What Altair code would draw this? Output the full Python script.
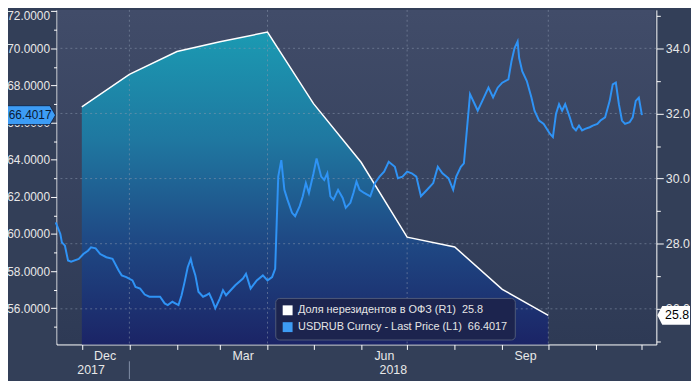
import altair as alt
import pandas as pd

FONT = "Liberation Sans, Arial, sans-serif"

SHARE_NAME = "Доля нерезидентов в ОФЗ (R1)"
USD_NAME = "USDRUB Curncy - Last Price (L1)"

# Non-resident share of OFZ, % (right axis), monthly
share_dates = ["2017-12-01", "2018-01-01", "2018-02-01", "2018-03-01", "2018-04-01",
               "2018-05-01", "2018-06-01", "2018-07-01", "2018-08-01", "2018-09-01",
               "2018-10-01"]
share_values = [32.2, 33.2, 33.9, 34.2, 34.5, 32.3, 30.5, 28.2, 27.9, 26.6, 25.8]

# USDRUB last price (left axis)
usd_dates = [
    "2017-11-14", "2017-11-17", "2017-11-18", "2017-11-20", "2017-11-22", "2017-11-24",
    "2017-11-29", "2017-12-02", "2017-12-05", "2017-12-07", "2017-12-10", "2017-12-13",
    "2017-12-17", "2017-12-21", "2017-12-25", "2017-12-27", "2017-12-30", "2018-01-03",
    "2018-01-05", "2018-01-08", "2018-01-11", "2018-01-14", "2018-01-18", "2018-01-21",
    "2018-01-24", "2018-01-26", "2018-01-29", "2018-02-02", "2018-02-04", "2018-02-06",
    "2018-02-08", "2018-02-10", "2018-02-11", "2018-02-13", "2018-02-15", "2018-02-18",
    "2018-02-20", "2018-02-22", "2018-02-24", "2018-02-26", "2018-03-01", "2018-03-03",
    "2018-03-05", "2018-03-08", "2018-03-11", "2018-03-16", "2018-03-18", "2018-03-21",
    "2018-03-25", "2018-03-29", "2018-04-01", "2018-04-04", "2018-04-06", "2018-04-07",
    "2018-04-08", "2018-04-10", "2018-04-12", "2018-04-14", "2018-04-17", "2018-04-19",
    "2018-04-22", "2018-04-24", "2018-04-26", "2018-04-28", "2018-05-01", "2018-05-03",
    "2018-05-06", "2018-05-08", "2018-05-10", "2018-05-12", "2018-05-14", "2018-05-17",
    "2018-05-20", "2018-05-22", "2018-05-25", "2018-05-27", "2018-05-29", "2018-05-31",
    "2018-06-03", "2018-06-07", "2018-06-10", "2018-06-13", "2018-06-16", "2018-06-19",
    "2018-06-23", "2018-06-25", "2018-06-28", "2018-07-01", "2018-07-04", "2018-07-07",
    "2018-07-10", "2018-07-14", "2018-07-18", "2018-07-21", "2018-07-24", "2018-07-28",
    "2018-07-31", "2018-08-02", "2018-08-05", "2018-08-07", "2018-08-09", "2018-08-11",
    "2018-08-14", "2018-08-16", "2018-08-19", "2018-08-23", "2018-08-26", "2018-08-29",
    "2018-09-01", "2018-09-05", "2018-09-07", "2018-09-09", "2018-09-11", "2018-09-12",
    "2018-09-14", "2018-09-17", "2018-09-20", "2018-09-22", "2018-09-25", "2018-09-28",
    "2018-10-02", "2018-10-04", "2018-10-06", "2018-10-08", "2018-10-10", "2018-10-12",
    "2018-10-15", "2018-10-17", "2018-10-19", "2018-10-21", "2018-10-23", "2018-10-25",
    "2018-10-28", "2018-10-30", "2018-11-02", "2018-11-04", "2018-11-07", "2018-11-10",
    "2018-11-12", "2018-11-14", "2018-11-16", "2018-11-18", "2018-11-20", "2018-11-23",
    "2018-11-25", "2018-11-27", "2018-11-29", "2018-12-01",
]
usd_values = [
    60.63, 60.00, 59.55, 59.37, 58.57, 58.51,
    58.66, 58.92, 59.10, 59.28, 59.23, 58.92,
    58.75, 58.66, 58.03, 57.77, 57.68, 57.50,
    57.15, 57.06, 56.74, 56.62, 56.62, 56.62,
    56.26, 56.17, 56.35, 56.17, 56.70, 57.42,
    58.21, 58.66, 58.30, 57.77, 56.89, 56.62,
    56.70, 56.80, 56.44, 56.00, 56.53, 56.97,
    56.70, 56.97, 57.24, 57.60, 57.86, 57.06,
    57.50, 57.77, 57.50, 57.68, 58.12, 60.61,
    63.09, 63.98, 62.38, 61.85, 61.14, 60.96,
    61.50, 62.03, 62.74, 62.21, 63.27, 64.07,
    63.09, 62.91, 63.27, 62.03, 61.85, 62.38,
    61.94, 61.41, 61.68, 62.21, 62.83, 62.38,
    62.21, 62.03, 62.74, 63.09, 63.36, 63.89,
    63.62, 63.00, 63.09, 63.36, 63.27, 63.09,
    62.03, 62.38, 62.74, 63.62, 63.27, 63.00,
    62.38, 63.09, 63.62, 63.80, 65.66, 67.53,
    67.00, 66.64, 67.17, 67.88, 67.35, 67.88,
    68.15, 68.33, 69.30, 70.01, 70.37, 69.48,
    68.77, 68.24, 67.35, 66.64, 66.11, 65.93,
    65.40, 65.22, 66.46, 66.99, 66.64, 66.99,
    66.28, 65.75, 65.58, 65.84, 65.58, 65.66,
    65.75, 65.84, 65.93, 66.11, 66.28, 67.17,
    68.06, 68.15, 66.99, 66.11, 65.93, 66.02,
    66.28, 67.17, 67.35, 66.4017,
]

month_ticks = [(2017, 12)] + [(2018, m) for m in range(1, 13)]
left_ticks = list(range(55, 73))
right_ticks = list(range(25, 36))
hgrid_values = [26, 28, 30, 32, 34]
vgrid_dates = ["2018-01-01", "2018-04-01", "2018-07-01", "2018-10-01"]
year_labels = ["2017", "2018"]
year_label_dates = ["2017-12-07", "2018-06-22"]
year_sep_dates = ["2018-01-01"]

LEFT_MIN, LEFT_MAX = 54.05, 72.07
RIGHT_MIN, RIGHT_MAX = 24.906, 35.18

share_label = f"{SHARE_NAME}\u00a0\u00a0{share_values[-1]}"
usd_label = f"{USD_NAME}\u00a0\u00a0{usd_values[-1]:.4f}"

share_df = pd.DataFrame({"date": share_dates, "share": share_values})
usd_df = pd.DataFrame({"date": usd_dates, "usd": usd_values})
hgrid_df = pd.DataFrame({"share": hgrid_values})
vgrid_df = pd.DataFrame({"date": vgrid_dates})
years_df = pd.DataFrame({"date": year_label_dates, "year": year_labels})
sep_df = pd.DataFrame({"date": year_sep_dates})
rtag_df = pd.DataFrame({"share": [share_values[-1]], "series": [share_label],
                        "text": [f"{share_values[-1]}"]})
ltag_df = pd.DataFrame({"usd": [usd_values[-1]], "series": [usd_label],
                        "text": [f"{usd_values[-1]:.4f}"]})
bg_df = pd.DataFrame({"k": [0]})

LABEL_COLOR = "#e8e8e8"
AXIS_COLOR = "#ffffff"

x_axis = alt.Axis(
    values=[alt.DateTime(year=y, month=m, date=1) for y, m in month_ticks],
    labelExpr="(month(datum.value) == 11 && year(datum.value) == 2017) || month(datum.value) == 2 "
              "|| month(datum.value) == 5 || month(datum.value) == 8 ? timeFormat(datum.value, '%b') : ''",
    labelOffset=23, labelPadding=0, tickSize=5, tickColor=AXIS_COLOR, domainColor=AXIS_COLOR,
    labelColor=LABEL_COLOR, labelFont=FONT, labelFontSize=12.5, grid=False,
    labelOverlap=False, labelFlush=False,
)
X = alt.X("date:T", title=None, axis=x_axis,
          scale=alt.Scale(domain=[alt.DateTime(year=2017, month=11, date=14, hours=12),
                                  alt.DateTime(year=2018, month=12, date=10, hours=10)]))

yr_axis = alt.Axis(
    orient="right", values=right_ticks, format=".1f",
    labelExpr="datum.value % 2 === 0 ? datum.label : ''",
    tickSize={"condition": {"test": "datum.value % 2 === 0", "value": 7}, "value": 4},
    tickColor=AXIS_COLOR, domainColor=AXIS_COLOR,
    labelColor=LABEL_COLOR, labelFont=FONT, labelFontSize=12.5, labelPadding=2,
    grid=False, labelOverlap=False,
)
YR = alt.Y("share:Q", title=None, axis=yr_axis,
           scale=alt.Scale(domain=[RIGHT_MIN, RIGHT_MAX], nice=False, zero=False))

yl_axis = alt.Axis(
    orient="left", values=left_ticks, format=".4f",
    labelExpr="datum.value % 2 === 0 ? datum.label : ''",
    labelOffset={"condition": {"test": "datum.value === 72", "value": 4}, "value": 0},
    tickSize={"condition": {"test": "datum.value % 2 === 0", "value": 6}, "value": 3},
    tickColor=AXIS_COLOR, domainColor=AXIS_COLOR,
    labelColor=LABEL_COLOR, labelFont=FONT, labelFontSize=12, labelPadding=1,
    grid=False, labelOverlap=False,
)
YL = alt.Y("usd:Q", title=None, axis=yl_axis,
           scale=alt.Scale(domain=[LEFT_MIN, LEFT_MAX], nice=False, zero=False))

FILL = alt.Fill(
    "series:N",
    scale=alt.Scale(domain=[share_label, usd_label], range=["#ffffff", "#3d9cf5"]),
    legend=alt.Legend(
        title=None, orient="none", legendX=221, legendY=291,
        symbolType="square", symbolSize=100, symbolStrokeWidth=0, symbolOpacity=1,
        labelFont=FONT, labelFontSize=11, labelColor="#e6e6e6", labelOffset=5,
        labelLimit=400, rowPadding=5, padding=7,
        fillColor="#1c244e", strokeColor="#4f5a78", cornerRadius=4,
    ),
)

bg_grad = alt.LinearGradient(
    gradient="linear", x1=0, x2=0, y1=0, y2=1,
    stops=[alt.GradientStop(color="#414c69", offset=0),
           alt.GradientStop(color="#2e3a55", offset=1)],
)
area_grad = alt.LinearGradient(
    gradient="linear", x1=0, x2=0, y1=0, y2=1,
    stops=[alt.GradientStop(color="#1b9ab2", offset=0),
           alt.GradientStop(color="#1f77a0", offset=0.35),
           alt.GradientStop(color="#1f4b86", offset=0.65),
           alt.GradientStop(color="#1b2466", offset=1)],
)

bg = alt.Chart(bg_df).mark_rect(color=bg_grad).encode(
    x=alt.value(1), x2=alt.value(605), y=alt.value(0), y2=alt.value(337))

area = alt.Chart(share_df).mark_area(color=area_grad).encode(
    x=X, y=YR, y2=alt.datum(RIGHT_MIN))
grid_style = dict(color="#8b97ad", strokeDash=[2, 3], opacity=0.55, strokeWidth=1)
hgrid = alt.Chart(hgrid_df).mark_rule(**grid_style).encode(y=YR)
vgrid = alt.Chart(vgrid_df).mark_rule(**grid_style).encode(x=X)
share_line = alt.Chart(share_df).mark_line(color="#ffffff", strokeWidth=1.5).encode(x=X, y=YR)

rtag_shape = "M-1,0L-0.7,-0.58L1,-0.58L1,0.58L-0.7,0.58Z"
rtag = alt.Chart(rtag_df).mark_point(shape=rtag_shape, size=1089, filled=True, opacity=1).encode(
    x=alt.value(623.5), y=YR, fill=FILL)
rtext = alt.Chart(rtag_df).mark_text(align="center", baseline="middle", font=FONT, fontSize=12.5,
                                     color="#000000").encode(x=alt.value(627), y=YR, text="text:N")

usd_line = alt.Chart(usd_df).mark_line(color="#2f93f5", strokeWidth=2).encode(x=X, y=YL)
ltag_shape = "M-1,-0.34L0.8,-0.34L1,0L0.8,0.34L-1,0.34Z"
ltag = alt.Chart(ltag_df).mark_point(shape=ltag_shape, size=3136, filled=True, opacity=1,
                                     stroke="#0d1f3f", strokeWidth=0.8).encode(
    x=alt.value(-29), y=YL, fill=FILL)
ltext = alt.Chart(ltag_df).mark_text(align="right", baseline="middle", font=FONT, fontSize=12,
                                     color="#0b1a33").encode(x=alt.value(-5), y=YL, text="text:N")

years = alt.Chart(years_df).mark_text(align="center", baseline="middle", font=FONT, fontSize=12.5,
                                      color=LABEL_COLOR).encode(x=X, y=alt.value(363.5), text="year:N")
sep = alt.Chart(sep_df).mark_rule(color="#8390a6").encode(x=X, y=alt.value(355), y2=alt.value(373))

share_layer = alt.layer(area, hgrid, vgrid, share_line, rtag, rtext)
usd_layer = alt.layer(usd_line, ltag, ltext)

chart = alt.layer(bg, share_layer, usd_layer, years, sep).resolve_scale(
    y="independent"
).properties(
    width=606, height=338,
    padding={"left": 49, "top": 0, "right": 35, "bottom": 35},
    autosize=alt.AutoSizeParams(type="none"),
    background="#333f58",
).configure_view(
    stroke=None,
)

chart.save("out.html", embed_options={"renderer": "svg", "actions": False})
